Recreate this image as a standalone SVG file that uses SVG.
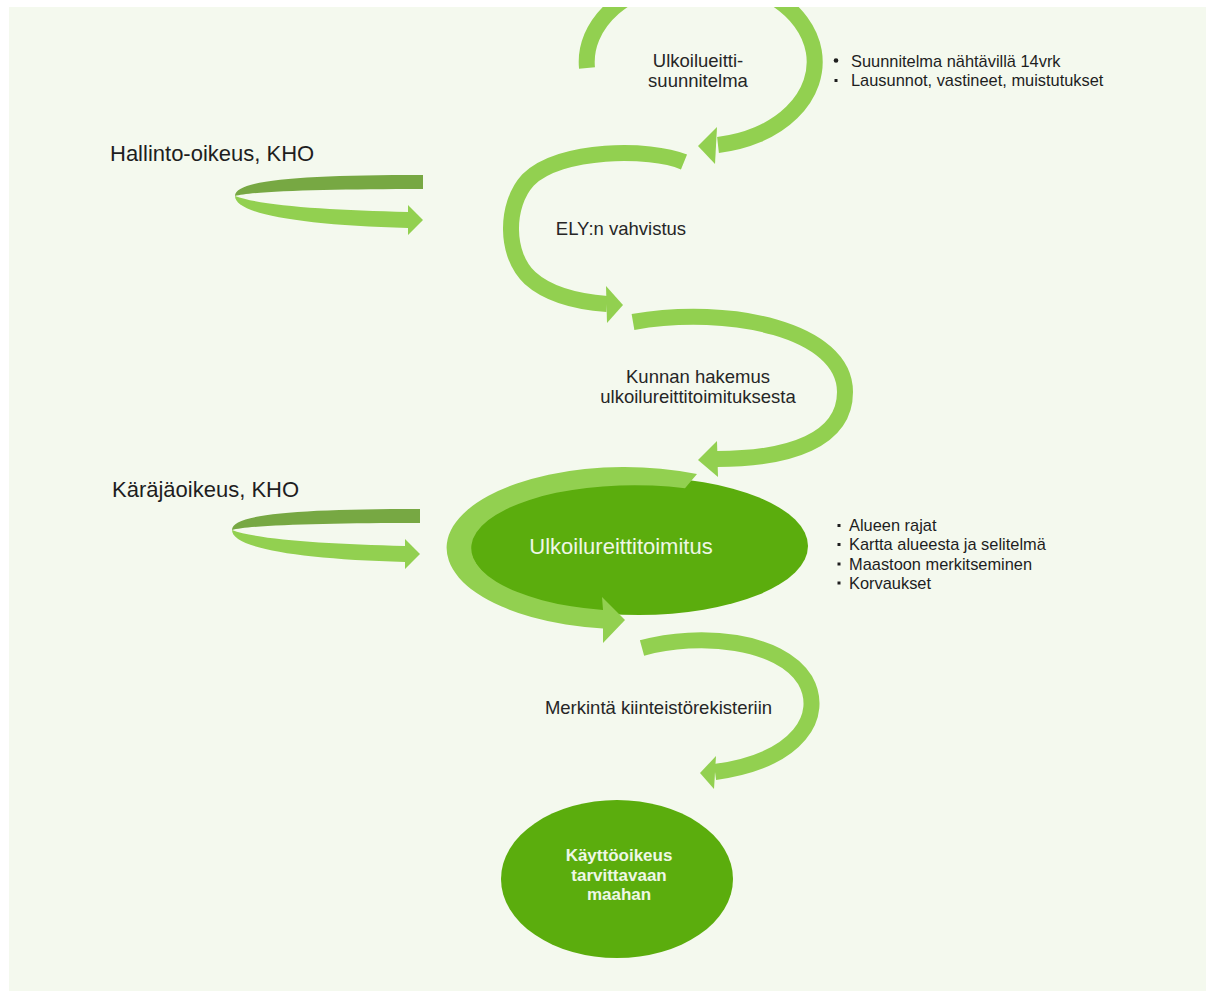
<svg xmlns="http://www.w3.org/2000/svg" width="1206" height="994" viewBox="0 0 1206 994">
<defs>
<clipPath id="panel"><rect x="9" y="7" width="1197" height="984"/></clipPath>
<style>
.arc{fill:none;stroke:#92d050;stroke-width:16;}
.head{fill:#92d050;}
.band{fill:#77a843;}
.lbl{font-family:"Liberation Sans",Arial,sans-serif;font-size:18.5px;fill:#262626;text-anchor:middle;}
.side{font-family:"Liberation Sans",Arial,sans-serif;font-size:22px;fill:#1e1e1e;}
.bul{font-family:"Liberation Sans",Arial,sans-serif;font-size:16.4px;fill:#1e1e1e;}
.dot{fill:#1e1e1e;}
.wt{font-family:"Liberation Sans",Arial,sans-serif;fill:#eef7e6;text-anchor:middle;}
.node{fill:#5bad0d;}
</style>
</defs>
<rect width="1206" height="994" fill="#ffffff"/>
<rect x="9" y="7" width="1197" height="984" fill="#f4f9ee"/>

<g id="node-suunnitelma">
<text class="lbl" x="698" y="67">Ulkoilueitti-</text>
<text class="lbl" x="698" y="87">suunnitelma</text>
</g>
<g id="note-suunnitelma">
<circle class="dot" cx="836" cy="60.5" r="2.3"/>
<text class="bul" x="851" y="66.5">Suunnitelma nähtävillä 14vrk</text>
<rect class="dot" x="834.5" y="79" width="3" height="3"/>
<text class="bul" x="851" y="86">Lausunnot, vastineet, muistutukset</text>
</g>
<g id="node-hallinto">
<text class="side" x="110" y="161">Hallinto-oikeus, KHO</text>
</g>
<g id="node-ely">
<text class="lbl" x="621" y="235">ELY:n vahvistus</text>
</g>
<g id="node-hakemus">
<text class="lbl" x="698" y="383">Kunnan hakemus</text>
<text class="lbl" x="698" y="403">ulkoilureittitoimituksesta</text>
</g>
<g id="node-karajaoikeus">
<text class="side" x="112" y="497">Käräjäoikeus, KHO</text>
</g>
<g id="node-toimitus">
<ellipse class="node" cx="639" cy="546" rx="169" ry="69"/>
<path class="head" d="M697,474 A178,81 0 1 0 603,628.4 L603,643 L625,620 L602,597 L603,610 A163,63 0 1 1 685,488.3 Z"/>
<text class="wt" x="621" y="554" font-size="22">Ulkoilureittitoimitus</text>
</g>
<g id="note-toimitus">
<rect class="dot" x="837.5" y="524" width="3" height="3"/>
<text class="bul" x="849" y="531">Alueen rajat</text>
<rect class="dot" x="837.5" y="543" width="3" height="3"/>
<text class="bul" x="849" y="550">Kartta alueesta ja selitelmä</text>
<rect class="dot" x="837.5" y="562.5" width="3" height="3"/>
<text class="bul" x="849" y="569.5">Maastoon merkitseminen</text>
<rect class="dot" x="837.5" y="581.5" width="3" height="3"/>
<text class="bul" x="849" y="588.5">Korvaukset</text>
</g>
<g id="node-merkinta">
<text class="lbl" x="658.5" y="714">Merkintä kiinteistörekisteriin</text>
</g>
<g id="node-kayttooikeus">
<ellipse class="node" cx="617" cy="879" rx="116" ry="79"/>
<text class="wt" x="619" y="861" font-size="17" font-weight="bold">Käyttöoikeus</text>
<text class="wt" x="619" y="881" font-size="17" font-weight="bold">tarvittavaan</text>
<text class="wt" x="619" y="900" font-size="17" font-weight="bold">maahan</text>
</g>

<g id="connectors" clip-path="url(#panel)">
<path class="arc" d="M587,68 A114,84 0 1 1 718,145"/>
<polygon class="head" points="698,146 717,127 715,164"/>
<path class="arc" d="M684,162 C650,148 560,148 528,180 C505,205 505,255 530,278 C550,296 580,302 607,304"/>
<polygon class="head" points="623,305 606,286 607,323"/>
<path class="arc" d="M633,322 C730,305 845,330 845,392 C845,440 790,459 717,459"/>
<polygon class="head" points="698,460 717,441 718,477"/>
<path class="arc" d="M642,648 C700,632 780,640 805,680 C825,715 800,760 715,772"/>
<polygon class="head" points="700,773 716,756 714,789"/>
<g id="loop-hallinto">
<path class="band" d="M423,175 C300,175 235,180 235,196 C252,191 330,189 423,189 Z"/>
<path class="head" d="M235,196 C235,214 300,225 408,228 L408,235 L423,220 L408,205 L408,212 C330,210 262,206 235,196 Z"/>
</g>
<g id="loop-karajaoikeus" transform="translate(-3,334)">
<path class="band" d="M423,175 C300,175 235,180 235,196 C252,191 330,189 423,189 Z"/>
<path class="head" d="M235,196 C235,214 300,225 408,228 L408,235 L423,220 L408,205 L408,212 C330,210 262,206 235,196 Z"/>
</g>
</g>
</svg>
